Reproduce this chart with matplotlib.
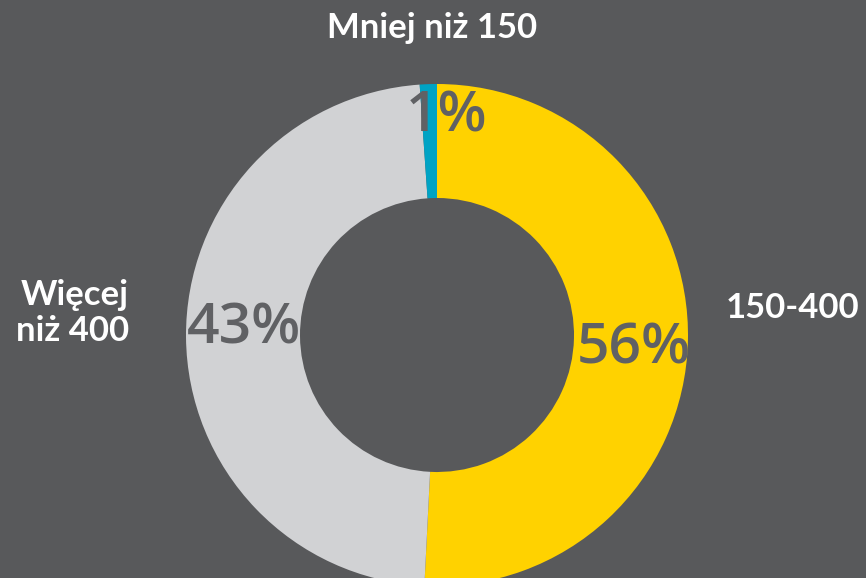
import matplotlib.pyplot as plt

# segment sizes as drawn (share of the ring), clockwise from 12 o'clock
categories = ["150-400", "Więcej\nniż 400", "Mniej niż 150"]
drawn_share = [50.8, 48.1, 1.1]
pct_labels = ["56%", "43%", "1%"]

colors = ["#FFD200", "#D1D2D4", "#00A3C4"]
bg = "#58595B"
pct_color = "#606164"

W, H = 866, 578
fig = plt.figure(figsize=(W / 100, H / 100), dpi=100, facecolor=bg)
ax = fig.add_axes([0, 0, 1, 1])
ax.set_facecolor(bg)

# ring centre / radii in pixel units (y measured from the bottom)
cx, cy = 437, H - 335
r_out, r_in = 251, 137

ax.pie(
    drawn_share,
    colors=colors,
    startangle=90,
    counterclock=False,
    radius=r_out,
    center=(cx, cy),
    wedgeprops=dict(width=r_out - r_in, linewidth=0),
)
ax.set_xlim(0, W)
ax.set_ylim(0, H)
ax.set_aspect("equal")
ax.axis("off")

# percentage labels
pct_pos = [(634, 349), (244, 329), (447, 118)]
for txt, (x, y) in zip(pct_labels, pct_pos):
    ax.text(x, H - y, txt, color=pct_color, fontsize=41, family="Open Sans",
            fontweight="semibold", ha="center", va="center")

# category labels
lab = dict(color="white", fontsize=25, family="Lato", fontweight="bold",
           va="center")
ax.text(793, H - 308, categories[0], ha="center", **lab)
ax.text(129, H - 313, categories[1], ha="right", multialignment="right",
        linespacing=1.15, **lab)
ax.text(432, H - 28, categories[2], ha="center", **lab)

plt.savefig("out.png", dpi=100, facecolor=bg)
